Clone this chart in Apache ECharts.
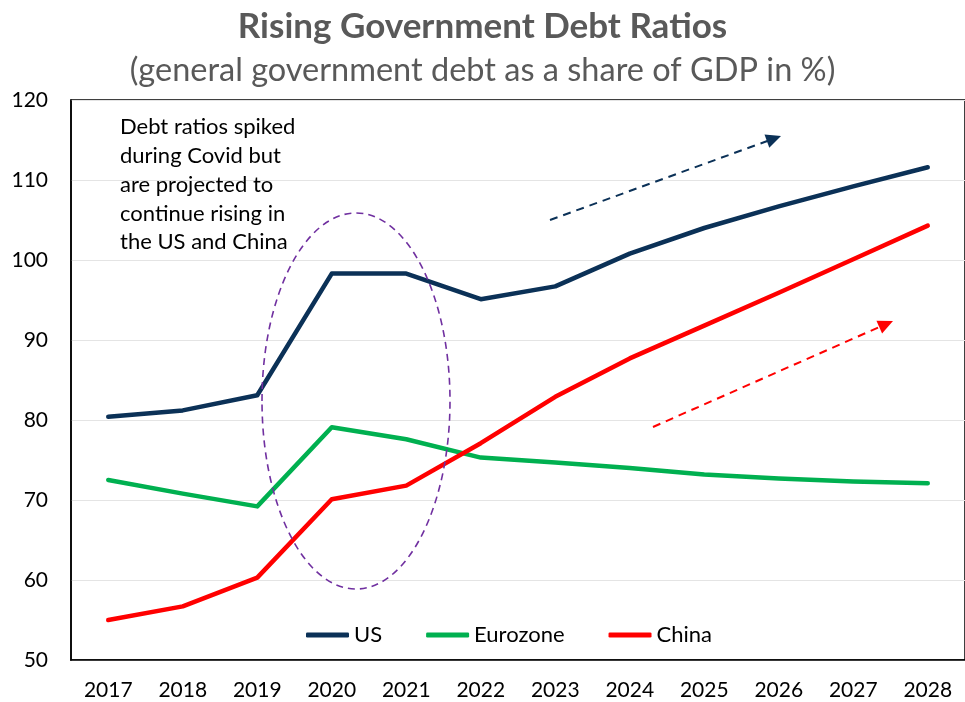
<!DOCTYPE html>
<html>
<head>
<meta charset="utf-8">
<script src="https://cdn.jsdelivr.net/npm/echarts@6/dist/echarts.min.js"></script>
<style>
  html, body { margin: 0; padding: 0; background: #fff; }
  #chart { width: 965px; height: 702px; }
</style>
</head>
<body>
<div id="chart"></div>
<script>
// General government debt, % of GDP
const years = ['2017', '2018', '2019', '2020', '2021', '2022', '2023', '2024', '2025', '2026', '2027', '2028'];
const usDebt = [80.4, 81.2, 83.1, 98.3, 98.3, 95.1, 96.7, 100.8, 104.0, 106.7, 109.2, 111.6];
const eurozoneDebt = [72.5, 70.8, 69.2, 79.1, 77.6, 75.3, 74.7, 74.0, 73.2, 72.7, 72.3, 72.1];
const chinaDebt = [55.0, 56.7, 60.3, 70.1, 71.8, 77.1, 82.9, 87.7, 91.8, 95.9, 100.1, 104.3];
const yTicks = { min: 50, max: 120, step: 10 };

const FONT = 'Lato, "Open Sans", sans-serif';
const NAVY = '#0B3157';
const GREEN = '#00B050';
const RED = '#FF0000';

// dashed trend arrow: shaft plus a filled head pointing along the shaft
function arrow(x1, y1, x2, y2, color) {
  const ang = Math.atan2(y2 - y1, x2 - x1);
  const len = 15, half = 7;
  const bx = x2 - len * Math.cos(ang), by = y2 - len * Math.sin(ang);
  const px = -Math.sin(ang) * half, py = Math.cos(ang) * half;
  return [
    { type: 'line', z: 10, shape: { x1, y1, x2: bx + 2 * Math.cos(ang), y2: by + 2 * Math.sin(ang) },
      style: { stroke: color, lineWidth: 2, lineDash: [8, 6] } },
    { type: 'polygon', z: 10, shape: { points: [[x2, y2], [bx + px, by + py], [bx - px, by - py]] },
      style: { fill: color } }
  ];
}

const chart = echarts.init(document.getElementById('chart'), null, { renderer: 'canvas' });

const lineStyleFor = c => ({ color: c, width: 4.5, cap: 'round', join: 'round' });

chart.setOption({
  backgroundColor: '#fff',
  animation: false,
  title: [
    { text: 'Rising Government Debt Ratios', left: 'center', top: 4,
      textStyle: { fontFamily: FONT, fontSize: 35, fontWeight: 'bold', color: '#595959' } },
    { text: '(general government debt as a share of GDP in %)', left: 'center', top: 49,
      textStyle: { fontFamily: FONT, fontSize: 32.5, fontWeight: 'normal', color: '#595959' } }
  ],
  legend: {
    left: 306, top: 624, padding: 0,
    itemWidth: 43, itemHeight: 5, itemGap: 44,
    icon: 'roundRect',
    textStyle: { fontFamily: FONT, fontSize: 22, color: '#000' },
    data: ['US', 'Eurozone', 'China']
  },
  grid: {
    left: 71, right: -8, top: 100, bottom: 42,
    show: true, borderColor: '#000', borderWidth: 1.5, backgroundColor: 'transparent'
  },
  xAxis: {
    type: 'category', data: years, boundaryGap: true,
    axisLine: { show: true, lineStyle: { color: '#000', width: 1.5 } },
    axisTick: { show: false },
    axisLabel: { fontFamily: FONT, fontSize: 21, color: '#000', margin: 20 }
  },
  yAxis: {
    type: 'value', min: yTicks.min, max: yTicks.max, interval: yTicks.step,
    axisLine: { show: true, lineStyle: { color: '#000', width: 1.5 } },
    axisTick: { show: false },
    axisLabel: { fontFamily: FONT, fontSize: 21, color: '#000', margin: 23 },
    splitLine: { lineStyle: { color: '#E4E4E4', width: 1 } }
  },
  series: [
    { name: 'US', type: 'line', data: usDebt, symbol: 'none', color: NAVY, lineStyle: lineStyleFor(NAVY), z: 3 },
    { name: 'Eurozone', type: 'line', data: eurozoneDebt, symbol: 'none', color: GREEN, lineStyle: lineStyleFor(GREEN), z: 2 },
    { name: 'China', type: 'line', data: chinaDebt, symbol: 'none', color: RED, lineStyle: lineStyleFor(RED), z: 4 }
  ],
  graphic: [
    { type: 'text', left: 120, top: 113, z: 10,
      style: {
        text: 'Debt ratios spiked\nduring Covid but\nare projected to\ncontinue rising in\nthe US and China',
        font: '22px ' + FONT, fill: '#000', lineHeight: 28.7
      } },
    { type: 'ellipse', z: 10, shape: { cx: 356, cy: 401, rx: 94, ry: 188 },
      style: { fill: 'none', stroke: '#7030A0', lineWidth: 1.6, lineDash: [7, 5] } },
    ...arrow(550, 220, 781, 136, NAVY),
    ...arrow(653, 427, 893, 321, RED)
  ]
});
</script>
</body>
</html>
